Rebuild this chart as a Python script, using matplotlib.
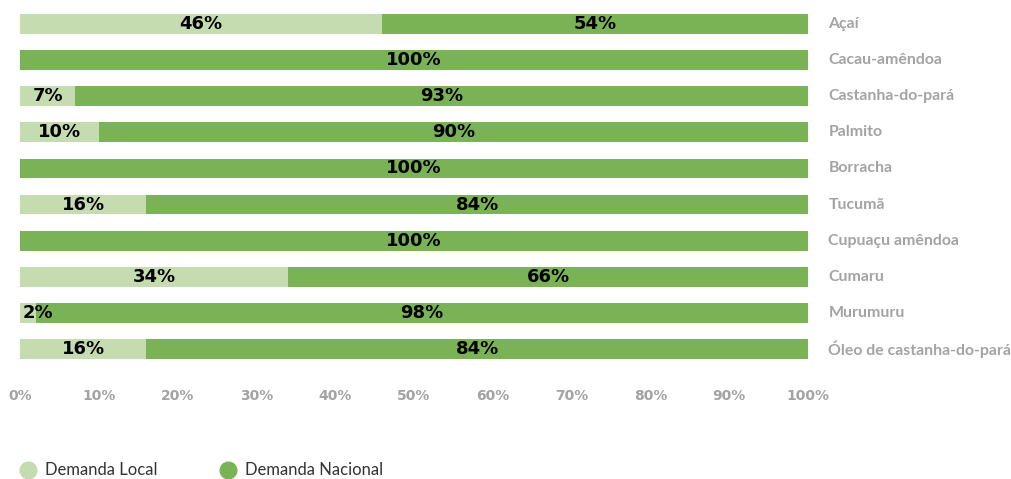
import matplotlib.pyplot as plt
from matplotlib.lines import Line2D

plt.rcParams['font.family'] = ['Lato', 'DejaVu Sans']

categories = ["Açaí", "Cacau-amêndoa", "Castanha-do-pará", "Palmito", "Borracha",
              "Tucumã", "Cupuaçu amêndoa", "Cumaru", "Murumuru",
              "Óleo de castanha-do-pará"]
local = [46, 0, 7, 10, 0, 16, 0, 34, 2, 16]
nacional = [54, 100, 93, 90, 100, 84, 100, 66, 98, 84]
xticks = [0, 10, 20, 30, 40, 50, 60, 70, 80, 90, 100]

c_local = "#c5dcb0"
c_nac = "#7ab356"
gray = "#a3a3a3"
numfont = ["DejaVu Sans"]

fig = plt.figure(figsize=(10.11, 4.79), dpi=100)
ax = fig.add_axes([20 / 1011, 1 - 367 / 479, 788 / 1011, 361 / 479])

y = list(range(len(categories)))
ax.barh(y, local, height=0.55, color=c_local)
ax.barh(y, nacional, left=local, height=0.55, color=c_nac)

for i in y:
    if local[i] > 0:
        if local[i] < 5:
            ax.text(0.3, i, f"{local[i]}%", ha="left", va="center",
                    fontsize=13, fontweight="bold", color="black",
                    family=numfont)
        else:
            ax.text(local[i] / 2, i, f"{local[i]}%", ha="center", va="center",
                    fontsize=13, fontweight="bold", color="black",
                    family=numfont)
    ax.text(local[i] + nacional[i] / 2, i, f"{nacional[i]}%", ha="center",
            va="center", fontsize=13, fontweight="bold", color="black",
            family=numfont)
    ax.text(102.6, i, categories[i], ha="left", va="center", fontsize=11.4,
            fontweight="bold", color=gray)

ax.set_xlim(0, 100)
ax.set_ylim(len(categories) - 0.5, -0.5)
ax.set_xticks(xticks)
ax.set_xticklabels([f"{t}%" for t in xticks], fontsize=10, fontweight="bold",
                   color=gray, family=numfont)
ax.set_yticks([])
ax.tick_params(axis="x", length=0, pad=16)
for s in ax.spines.values():
    s.set_visible(False)

handles = [Line2D([], [], marker="o", linestyle="", markersize=12,
                  color=c_local, label="Demanda Local"),
           Line2D([], [], marker="o", linestyle="", markersize=12,
                  color=c_nac, label="Demanda Nacional")]
fig.legend(handles=handles, loc="lower left", bbox_to_anchor=(0.005, -0.03),
           ncol=2, frameon=False, fontsize=12, handlelength=1.0,
           handletextpad=0.5, columnspacing=3.75, labelcolor="#333333")

fig.savefig("out.png", dpi=100)
